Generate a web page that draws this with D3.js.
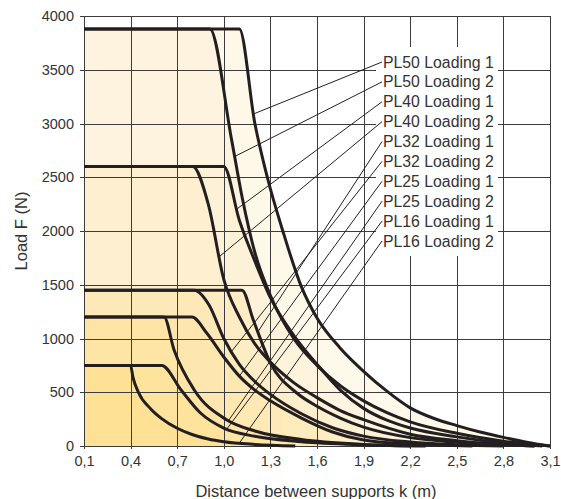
<!DOCTYPE html>
<html><head><meta charset="utf-8">
<script src="https://cdn.jsdelivr.net/npm/d3@7"></script>
<style>body{margin:0;background:#fff}</style>
</head><body>
<svg id="chart" width="561" height="499"></svg>
<script>
// ---- data ----
const xTicks = [0.1,0.4,0.7,1.0,1.3,1.6,1.9,2.2,2.5,2.8,3.1];
const yTicks = [0,500,1000,1500,2000,2500,3000,3500,4000];
const seriesNames = ["PL50 Loading 1","PL50 Loading 2","PL40 Loading 1","PL40 Loading 2","PL32 Loading 1","PL32 Loading 2","PL25 Loading 1","PL25 Loading 2","PL16 Loading 1","PL16 Loading 2"];
const pl50L1 = [[0.1,3880],[1.1,3880],[1.2,3000],[1.28,2500],[1.38,2000],[1.5,1480],[1.6,1190],[1.75,910],[1.9,695],[2.05,510],[2.2,355],[2.35,258],[2.5,190],[2.65,130],[2.8,80],[2.95,35],[3.1,0]];
const pl50L2 = [[0.1,3880],[0.91,3880],[1.05,2850],[1.12,2300],[1.2,1800],[1.3,1400],[1.45,1000],[1.6,750],[1.75,560],[1.9,420],[2.05,310],[2.2,225],[2.5,118],[2.8,45],[3.1,0]];
const pl40L1 = [[0.1,2600],[1.0,2600],[1.1,2100],[1.2,1720],[1.3,1380],[1.45,1030],[1.6,760],[1.75,520],[1.9,350],[2.05,240],[2.2,167],[2.5,85],[2.8,28],[3.05,0]];
const pl40L2 = [[0.1,2600],[0.8,2600],[0.9,2250],[1.0,1550],[1.1,1200],[1.2,950],[1.3,780],[1.45,590],[1.6,450],[1.75,330],[1.9,245],[2.2,110],[2.5,50],[2.8,15],[3.0,0]];
const pl32L1 = [[0.1,1450],[1.117,1450],[1.19,1172],[1.3,772],[1.47,493],[1.6,370],[1.75,260],[1.9,175],[2.2,78],[2.5,35],[2.8,10],[3.0,0]];
const pl32L2 = [[0.1,1450],[0.81,1450],[0.905,1312],[1.0,1000],[1.1,760],[1.2,600],[1.3,480],[1.5,300],[1.7,170],[1.9,92],[2.2,37],[2.5,12],[2.8,0]];
const pl25L1 = [[0.1,1200],[0.795,1200],[0.89,1051],[1.0,828],[1.1,650],[1.2,520],[1.3,420],[1.5,260],[1.7,130],[1.9,55],[2.2,18],[2.6,0]];
const pl25L2 = [[0.1,1200],[0.615,1200],[0.68,893],[0.81,521],[1.02,242],[1.2,140],[1.5,60],[1.9,15],[2.2,0]];
const pl16L1 = [[0.1,750],[0.6,750],[0.725,521],[0.85,307],[1.0,167],[1.2,90],[1.5,40],[1.9,12],[2.3,0]];
const pl16L2 = [[0.1,750],[0.4,750],[0.415,640],[0.45,500],[0.53,345],[0.6,255],[0.7,165],[0.8,105],[0.9,65],[1.0,40],[1.2,15],[1.46,0]];
const seriesData = [pl50L1,pl50L2,pl40L1,pl40L2,pl32L1,pl32L2,pl25L1,pl25L2,pl16L1,pl16L2];
const fillColors = ["#fef8e9","#fdf3df","#fdf1d7","#fdefcf","#fdecc2","#fde9b8","#fee7ae","#fee5a6","#fee39d","#fee194"];
const leaderX = [1.19,1.07,1.08,0.97,1.22,1.05,1.1,1.03,1.02,1.1];

// ---- layout ----
const svg = d3.select("#chart");
const x = d3.scaleLinear().domain([0.1,3.1]).range([84,550]);
const y = d3.scaleLinear().domain([0,4000]).range([446,16]);
const font = "'Liberation Sans', Arial, sans-serif";

const area = d3.area().x(d=>x(d[0])).y0(y(0)).y1(d=>y(d[1])).curve(d3.curveMonotoneX);
const line = d3.line().x(d=>x(d[0])).y(d=>y(d[1])).curve(d3.curveMonotoneX);

// gradients: each fill fades slightly toward the right
const defs = svg.append("defs");
fillColors.forEach((c,i)=>{
  const g = defs.append("linearGradient").attr("id","g"+i).attr("gradientUnits","userSpaceOnUse")
    .attr("x1",x(0.1)).attr("x2",x(2.2)).attr("y1",0).attr("y2",0);
  g.append("stop").attr("offset",0).attr("stop-color",c);
  g.append("stop").attr("offset",0.4).attr("stop-color",c);
  g.append("stop").attr("offset",1).attr("stop-color",d3.interpolateRgb(c,"#fff9ec")(0.55));
});

// fills (outermost first)
svg.append("g").selectAll("path").data(seriesData).join("path")
  .attr("d", d=>area(d)).attr("fill",(d,i)=>`url(#g${i})`).attr("stroke","none");

// grid
const grid = svg.append("g").attr("stroke","#3c3c3c").attr("stroke-width",1);
grid.selectAll("line.v").data(xTicks).join("line")
  .attr("x1",d=>Math.round(x(d))+0.5).attr("x2",d=>Math.round(x(d))+0.5)
  .attr("y1",y(4000)).attr("y2",y(0)+3);
grid.selectAll("line.h").data(yTicks).join("line")
  .attr("x1",x(0.1)-4).attr("x2",x(3.1))
  .attr("y1",d=>Math.round(y(d))+0.5).attr("y2",d=>Math.round(y(d))+0.5);

// white box behind labels
svg.append("rect").attr("x",376).attr("y",47).attr("width",122).attr("height",209).attr("fill","#fff");

// curves
svg.append("g").selectAll("path").data(seriesData).join("path")
  .attr("d", d=>line(d)).attr("fill","none").attr("stroke","#231f20").attr("stroke-width",3)
  .attr("stroke-linejoin","round");

// axes labels
const yAxis = d3.axisLeft(y).tickValues(yTicks).tickSize(0).tickPadding(10).tickFormat(d3.format("d"));
const gy = svg.append("g").attr("transform",`translate(${x(0.1)},0)`).call(yAxis);
gy.select(".domain").remove();
gy.selectAll("text").attr("font-family",font).attr("font-size",14.5).attr("fill","#333");

const xAxis = d3.axisBottom(x).tickValues(xTicks).tickSize(0).tickPadding(10).tickFormat(d=>d3.format(".1f")(d).replace(".",","));
const gx = svg.append("g").attr("transform",`translate(0,${y(0)})`).call(xAxis);
gx.select(".domain").remove();
gx.selectAll("text").attr("font-family",font).attr("font-size",14.5).attr("fill","#333");

svg.append("text").attr("x",316).attr("y",497).attr("text-anchor","middle")
  .attr("font-family",font).attr("font-size",16.5).attr("fill","#333")
  .text("Distance between supports k (m)");
svg.append("text").attr("transform","translate(27,231) rotate(-90)").attr("text-anchor","middle")
  .attr("font-family",font).attr("font-size",16.5).attr("fill","#333")
  .text("Load F (N)");

// interpolate helper for leader targets
function valueAt(data, xv){
  for(let i=1;i<data.length;i++){
    if(xv<=data[i][0]){
      const a=data[i-1], b=data[i];
      const t=(xv-a[0])/(b[0]-a[0]);
      return a[1]+t*(b[1]-a[1]);
    }
  }
  return data[data.length-1][1];
}

// labels and leader lines
const labelY = d3.scalePoint().domain(seriesNames).range([62,241]);
const lg = svg.append("g");
seriesNames.forEach((name,i)=>{
  const ly = labelY(name);
  lg.append("line").attr("x1",382).attr("y1",ly).attr("x2",x(leaderX[i])).attr("y2",y(valueAt(seriesData[i],leaderX[i])))
    .attr("stroke","#231f20").attr("stroke-width",1);
  lg.append("text").attr("x",383).attr("y",ly).attr("dy","0.35em")
    .attr("font-family",font).attr("font-size",15.8).attr("fill","#333").text(name);
});
</script>
</body></html>
